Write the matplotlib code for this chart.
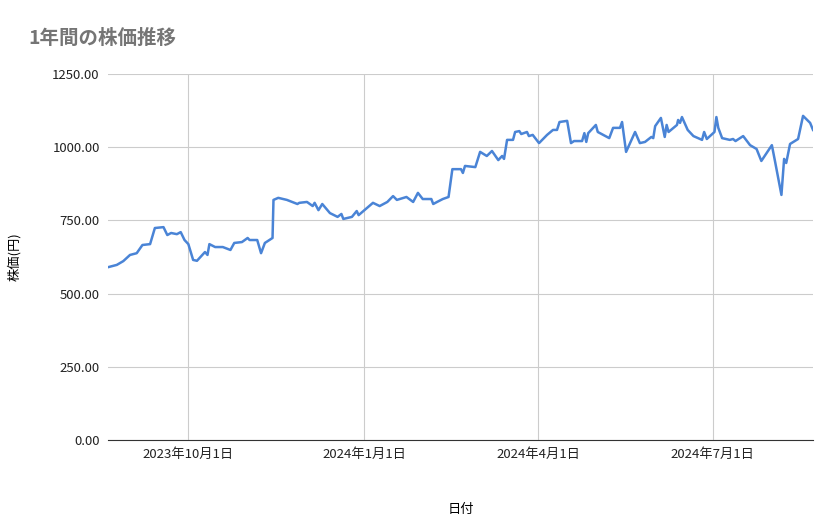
import numpy as np
import pandas as pd
import matplotlib
matplotlib.use("Agg")
import matplotlib.pyplot as plt
import matplotlib.dates as mdates

plt.rcParams['font.family'] = ['Noto Sans CJK JP', 'DejaVu Sans']

start = pd.Timestamp("2023-08-20")
# days since start, price (yen)
days = [0.5, 4.6, 8, 11.5, 15, 18, 22, 24.5, 29, 31, 33, 36, 38, 40, 42, 44.5, 46.5, 50.7, 52, 53,
        56, 60, 64, 66, 70, 73, 74, 78, 80, 82, 86, 86.5, 89, 93.5, 99, 100, 104, 107, 108, 110,
        112, 116, 120, 122, 123, 127.5, 130, 131, 138.5, 142, 146, 149, 151, 156, 159.5, 162, 164.5, 169, 170, 172,
        175, 178, 180, 184.5, 185.5, 186.6, 192, 194.5, 198, 200.7, 204, 206, 207, 208.6, 211.7, 212.8, 215, 216, 219, 220,
        222, 225.3, 229.5, 232.6, 234.7, 236, 240, 242, 243.6, 247.8, 249, 250, 251, 255, 256, 262, 264, 267.6, 268.7, 270.8,
        275.5, 278, 280.7, 284, 285, 286, 289, 291, 292, 293, 297.4, 298, 299, 300, 303, 306, 310.5, 311.6, 313, 317,
        318, 319, 321, 325, 326.7, 328, 332, 335.6, 339, 341.5, 345, 347, 348.7, 352, 353.4, 354.5, 356.5, 360.7, 363.3, 367, 368.5]
price = [591, 598, 611, 632, 638, 666, 669, 724, 727, 700, 707, 703, 710, 683, 669, 615, 612, 642, 632, 669,
         659, 659, 649, 673, 676, 690, 683, 683, 638, 673, 690, 820, 827, 820, 806, 810, 813, 799, 810, 785,
         806, 775, 762, 772, 755, 762, 782, 768, 810, 799, 813, 833, 820, 830, 813, 844, 823, 823, 806, 813,
         823, 830, 925, 925, 912, 936, 932, 984, 970, 987, 956, 970, 960, 1025, 1025, 1052, 1055, 1045, 1052, 1038,
         1042, 1014, 1042, 1059, 1059, 1086, 1090, 1014, 1021, 1021, 1048, 1018, 1048, 1076, 1052, 1031, 1066, 1066, 1086, 984,
         1052, 1014, 1018, 1035, 1031, 1072, 1100, 1035, 1076, 1052, 1076, 1093, 1083, 1103, 1059, 1038, 1025, 1052, 1028, 1052,
         1103, 1066, 1031, 1025, 1028, 1021, 1038, 1007, 994, 953, 987, 1007, 950, 837, 960, 946, 1011, 1028, 1107, 1083, 1059]
tick_dates = ["2023-10-01", "2024-01-01", "2024-04-01", "2024-07-01"]
tick_labels = ["2023年10月1日", "2024年1月1日", "2024年4月1日", "2024年7月1日"]

dates = start + pd.to_timedelta(days, unit="D")

fig = plt.figure(figsize=(8.39, 5.19), dpi=100)
ax = fig.add_axes([108/839, 1-440/519, 705/839, 366/519])
ax.plot(dates, price, color="#4a84d6", lw=1.8)

ax.set_xlim(start, start + pd.Timedelta(days=368.5))
ax.set_ylim(0, 1250)
ax.set_yticks(np.arange(0, 1251, 250))
ax.set_yticklabels([f"{v:.2f}" for v in np.arange(0, 1251, 250)])
ax.set_xticks(pd.to_datetime(tick_dates))
ax.set_xticklabels(tick_labels)
ax.grid(True, color="#cccccc", lw=0.8)
ax.set_axisbelow(True)
for s in ["top", "right", "left"]:
    ax.spines[s].set_visible(False)
ax.spines["bottom"].set_color("#333333")
ax.tick_params(length=0, labelsize=9.5, colors="#222222", pad=6)

ax.set_xlabel("日付", fontsize=9.5, labelpad=30)
ax.set_ylabel("株価(円)", fontsize=9.5, labelpad=22)
fig.text(28/839, 1-38/519, "1年間の株価推移", fontsize=14, color="#757575", va="center", fontweight="bold")

fig.savefig("out.png", dpi=100)
